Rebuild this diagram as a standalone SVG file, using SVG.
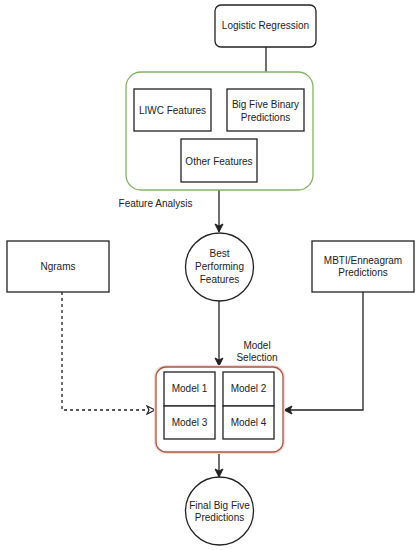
<svg xmlns="http://www.w3.org/2000/svg" width="420" height="550" viewBox="0 0 420 550">
  <style>
    text { font-family: "Liberation Sans", Arial, sans-serif; font-size: 10px; fill: #222; text-anchor: middle; }
    .box { fill: #ffffff; stroke: #222; stroke-width: 1.3; }
    .line { fill: none; stroke: #222; stroke-width: 1.3; }
    .dash { fill: none; stroke: #222; stroke-width: 1.3; stroke-dasharray: 3 3; }
  </style>
  <defs>
    <marker id="arr" markerUnits="userSpaceOnUse" markerWidth="12" markerHeight="12" refX="9" refY="5" orient="auto">
      <path d="M1,1 L9,5 L1,9 L3,5 Z" fill="#222" stroke="#222" stroke-width="1"/>
    </marker>
    <marker id="open" markerUnits="userSpaceOnUse" markerWidth="12" markerHeight="12" refX="9" refY="5" orient="auto">
      <path d="M1,1 L9,5 L1,9 L3,5 Z" fill="#fff" stroke="#222" stroke-width="1.2"/>
    </marker>
  </defs>
  <rect width="420" height="550" fill="#ffffff"/>

  <g id="connectors">
    <line class="line" x1="266" y1="47" x2="266" y2="88" marker-end="url(#arr)"/>
    <line class="line" x1="219" y1="190" x2="219" y2="232" marker-end="url(#arr)"/>
    <line class="line" x1="219" y1="301" x2="219" y2="366" marker-end="url(#arr)"/>
    <polyline class="dash" points="62,292 62,410 155,410" marker-end="url(#open)"/>
    <polyline class="line" points="363,292 363,410 284,410" marker-end="url(#arr)"/>
    <line class="line" x1="219" y1="452" x2="219" y2="477" marker-end="url(#arr)"/>
  </g>

  <g id="logistic-regression">
    <rect class="box" x="215" y="5" width="101" height="42" rx="6"/>
    <text x="265.5" y="29">Logistic Regression</text>
  </g>

  <g id="feature-group">
    <rect x="126" y="72" width="187" height="118" rx="15" fill="#ffffff" stroke="#82b366" stroke-width="1.3"/>
  </g>
  <g id="liwc-features">
    <rect class="box" x="134" y="89" width="77" height="42"/>
    <text x="172.5" y="113.5">LIWC Features</text>
  </g>
  <g id="big-five-binary">
    <rect class="box" x="227" y="89" width="77" height="42"/>
    <text x="265.5" y="108">Big Five Binary</text>
    <text x="265.5" y="121">Predictions</text>
  </g>
  <g id="other-features">
    <rect class="box" x="181" y="139" width="76" height="43"/>
    <text x="219" y="164.5">Other Features</text>
  </g>

  <g id="feature-analysis-label">
    <text x="155.5" y="206.5">Feature Analysis</text>
  </g>

  <g id="best-performing">
    <circle class="box" cx="219.5" cy="267" r="34"/>
    <text x="219.5" y="257">Best</text>
    <text x="219.5" y="270">Performing</text>
    <text x="219.5" y="282.5">Features</text>
  </g>

  <g id="ngrams">
    <rect class="box" x="7" y="241" width="102" height="51"/>
    <text x="58" y="269.5">Ngrams</text>
  </g>

  <g id="mbti">
    <rect class="box" x="312" y="241" width="102" height="51"/>
    <text x="363" y="263.5">MBTI/Enneagram</text>
    <text x="363" y="276">Predictions</text>
  </g>

  <g id="model-selection-label">
    <text x="257" y="348.5">Model</text>
    <text x="257" y="360.5">Selection</text>
  </g>

  <g id="model-group">
    <rect x="156" y="367" width="127" height="85" rx="10" fill="none" stroke="#f8d8e0" stroke-width="4"/>
    <rect x="156" y="367" width="127" height="85" rx="10" fill="#ffffff" stroke="#a65a3a" stroke-width="1.3"/>
  </g>
  <g id="model-1">
    <rect class="box" x="164" y="372" width="51" height="34"/>
    <text x="189.5" y="392">Model 1</text>
  </g>
  <g id="model-2">
    <rect class="box" x="223" y="372" width="51" height="34"/>
    <text x="248.5" y="392">Model 2</text>
  </g>
  <g id="model-3">
    <rect class="box" x="164" y="406" width="51" height="33"/>
    <text x="189.5" y="425.5">Model 3</text>
  </g>
  <g id="model-4">
    <rect class="box" x="223" y="406" width="51" height="33"/>
    <text x="248.5" y="425.5">Model 4</text>
  </g>

  <g id="final-predictions">
    <circle class="box" cx="219.5" cy="511" r="34"/>
    <text x="219.5" y="509">Final Big Five</text>
    <text x="219.5" y="521">Predictions</text>
  </g>
</svg>
